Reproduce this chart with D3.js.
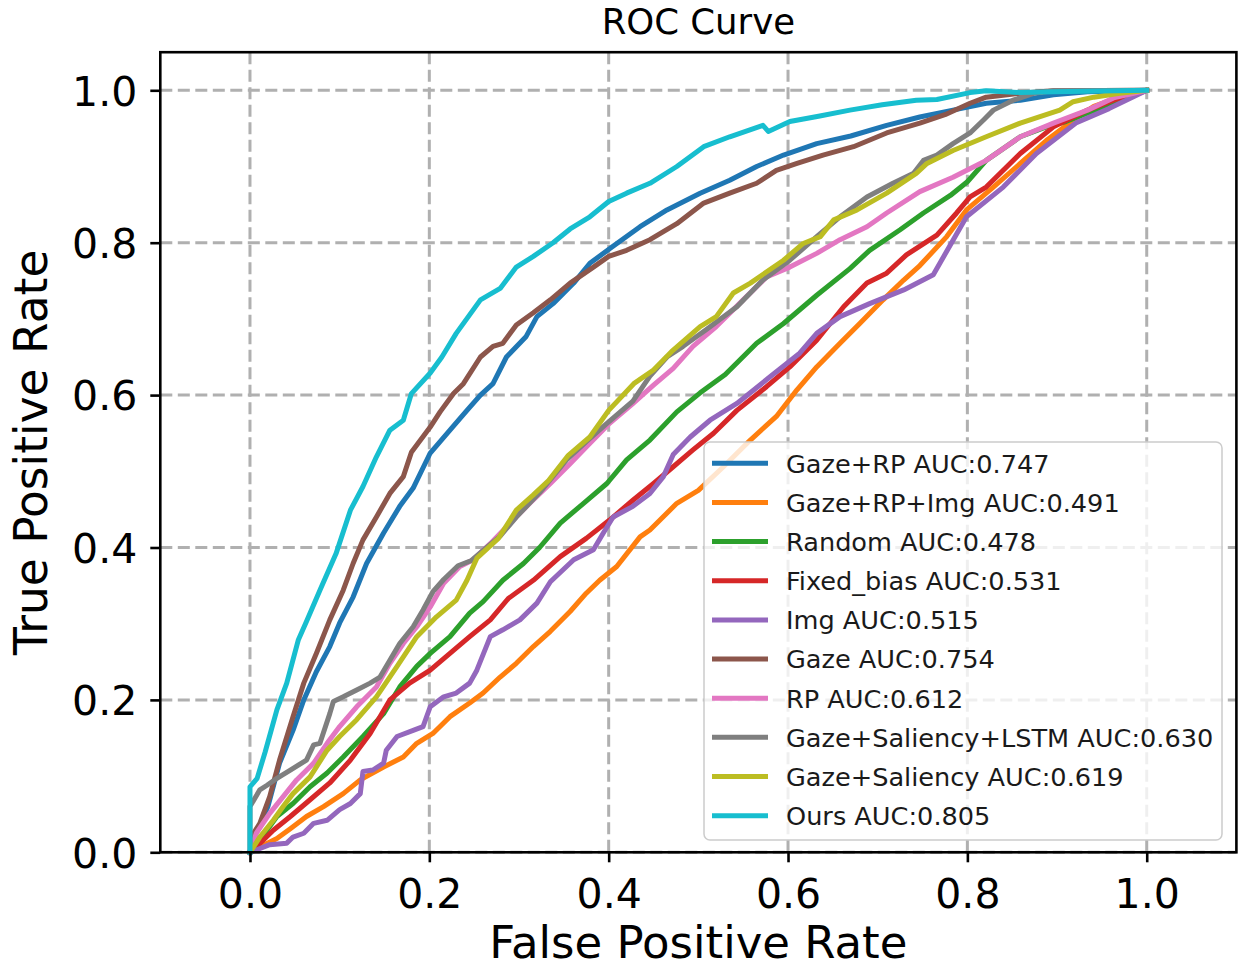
<!DOCTYPE html>
<html lang="en">
<head>
    <meta charset="UTF-8">
    <title>ROC Curve</title>
    <script src="https://d3js.org/d3.v7.min.js"></script>
    <style>
        body { margin: 0; background: #fff; font-family: "DejaVu Sans", sans-serif; }
        svg { display: block; }
    </style>
</head>
<body>
    <svg width="1239" height="970"></svg>

    <script>
        // values: [FPR, TPR]
        const gazeRP = [[0,0],[0.005,0.02],[0.02,0.06],[0.033,0.117],[0.048,0.16],[0.06,0.2],[0.074,0.237],[0.089,0.27],[0.1,0.301],[0.115,0.335],[0.13,0.379],[0.149,0.419],[0.167,0.454],[0.182,0.478],[0.201,0.524],[0.223,0.554],[0.242,0.58],[0.257,0.6],[0.271,0.615],[0.286,0.65],[0.308,0.677],[0.32,0.703],[0.338,0.72],[0.361,0.747],[0.379,0.773],[0.401,0.792],[0.435,0.821],[0.465,0.843],[0.502,0.865],[0.535,0.882],[0.565,0.9],[0.595,0.915],[0.632,0.93],[0.67,0.94],[0.71,0.954],[0.747,0.965],[0.784,0.974],[0.821,0.983],[0.859,0.987],[0.896,0.994],[0.934,0.998],[1,1]];
        const gazeRPImg = [[0,0],[0.011,0.007],[0.03,0.018],[0.045,0.031],[0.063,0.047],[0.082,0.06],[0.104,0.077],[0.123,0.095],[0.149,0.112],[0.171,0.125],[0.186,0.143],[0.204,0.156],[0.223,0.178],[0.245,0.196],[0.26,0.209],[0.279,0.23],[0.297,0.248],[0.316,0.27],[0.335,0.29],[0.357,0.316],[0.375,0.34],[0.39,0.357],[0.409,0.375],[0.435,0.414],[0.446,0.423],[0.476,0.458],[0.5,0.475],[0.528,0.506],[0.558,0.541],[0.587,0.572],[0.61,0.607],[0.632,0.637],[0.658,0.668],[0.68,0.694],[0.706,0.725],[0.729,0.751],[0.747,0.77],[0.777,0.808],[0.799,0.843],[0.829,0.873],[0.859,0.904],[0.888,0.934],[0.914,0.957],[0.941,0.979],[0.97,0.991],[1,1]];
        const random = [[0,0],[0.011,0.016],[0.03,0.047],[0.048,0.064],[0.067,0.086],[0.086,0.104],[0.104,0.125],[0.126,0.152],[0.149,0.182],[0.167,0.217],[0.186,0.244],[0.201,0.261],[0.223,0.283],[0.245,0.314],[0.26,0.329],[0.282,0.357],[0.305,0.379],[0.323,0.4],[0.346,0.432],[0.372,0.458],[0.398,0.484],[0.42,0.515],[0.446,0.541],[0.476,0.578],[0.502,0.603],[0.53,0.627],[0.565,0.668],[0.595,0.694],[0.632,0.731],[0.669,0.766],[0.691,0.79],[0.725,0.817],[0.751,0.839],[0.781,0.862],[0.8,0.88],[0.821,0.908],[0.859,0.939],[0.888,0.952],[0.91,0.959],[1,1]];
        const fixedBias = [[0,0],[0.007,0.007],[0.026,0.029],[0.045,0.047],[0.067,0.069],[0.089,0.091],[0.112,0.121],[0.134,0.156],[0.156,0.2],[0.178,0.222],[0.201,0.239],[0.223,0.261],[0.245,0.283],[0.268,0.305],[0.288,0.333],[0.316,0.357],[0.346,0.388],[0.375,0.412],[0.401,0.436],[0.427,0.462],[0.45,0.484],[0.472,0.506],[0.494,0.528],[0.517,0.55],[0.543,0.58],[0.576,0.611],[0.602,0.637],[0.632,0.672],[0.662,0.716],[0.688,0.747],[0.71,0.76],[0.732,0.784],[0.766,0.81],[0.788,0.839],[0.803,0.86],[0.821,0.873],[0.859,0.917],[0.896,0.952],[0.934,0.974],[0.963,0.987],[1,1]];
        const img = [[0,0],[0.007,0.003],[0.022,0.01],[0.041,0.012],[0.048,0.02],[0.06,0.025],[0.071,0.038],[0.086,0.042],[0.1,0.056],[0.112,0.064],[0.123,0.077],[0.126,0.106],[0.137,0.108],[0.149,0.117],[0.152,0.134],[0.164,0.152],[0.182,0.16],[0.193,0.165],[0.201,0.191],[0.216,0.204],[0.23,0.209],[0.245,0.222],[0.253,0.239],[0.268,0.283],[0.282,0.292],[0.301,0.305],[0.32,0.327],[0.335,0.355],[0.361,0.384],[0.383,0.397],[0.394,0.419],[0.405,0.44],[0.427,0.454],[0.446,0.471],[0.461,0.493],[0.472,0.522],[0.491,0.545],[0.513,0.567],[0.543,0.589],[0.58,0.624],[0.613,0.655],[0.632,0.681],[0.658,0.703],[0.691,0.72],[0.729,0.738],[0.762,0.758],[0.799,0.834],[0.84,0.873],[0.877,0.917],[0.921,0.957],[0.958,0.976],[1,1]];
        const gaze = [[0,0],[0.004,0.025],[0.011,0.038],[0.022,0.073],[0.033,0.121],[0.048,0.178],[0.06,0.222],[0.074,0.261],[0.089,0.305],[0.104,0.344],[0.115,0.379],[0.126,0.41],[0.141,0.44],[0.156,0.471],[0.171,0.493],[0.18,0.525],[0.201,0.558],[0.212,0.578],[0.227,0.602],[0.238,0.615],[0.257,0.65],[0.271,0.664],[0.282,0.668],[0.297,0.692],[0.316,0.708],[0.335,0.725],[0.357,0.747],[0.383,0.768],[0.4,0.782],[0.42,0.79],[0.446,0.804],[0.476,0.825],[0.506,0.852],[0.535,0.865],[0.565,0.878],[0.587,0.895],[0.61,0.904],[0.639,0.915],[0.673,0.926],[0.71,0.944],[0.747,0.957],[0.775,0.968],[0.803,0.983],[0.821,0.991],[0.859,0.996],[0.896,0.9995],[1,1]];
        const rp = [[0,0],[0.007,0.025],[0.022,0.051],[0.037,0.073],[0.052,0.095],[0.071,0.117],[0.086,0.143],[0.1,0.165],[0.119,0.191],[0.141,0.217],[0.156,0.248],[0.171,0.274],[0.186,0.296],[0.201,0.322],[0.216,0.353],[0.234,0.375],[0.249,0.384],[0.268,0.405],[0.29,0.432],[0.312,0.458],[0.335,0.484],[0.357,0.51],[0.375,0.532],[0.401,0.563],[0.427,0.589],[0.45,0.613],[0.472,0.635],[0.494,0.664],[0.52,0.69],[0.55,0.725],[0.576,0.755],[0.602,0.768],[0.632,0.786],[0.658,0.804],[0.688,0.821],[0.71,0.839],[0.747,0.867],[0.784,0.886],[0.821,0.908],[0.859,0.939],[0.896,0.957],[0.934,0.974],[0.963,0.99],[1,1]];
        const gazeSalLSTM = [[0,0],[0,0.06],[0.011,0.082],[0.019,0.088],[0.03,0.097],[0.045,0.108],[0.063,0.121],[0.071,0.141],[0.078,0.143],[0.089,0.182],[0.093,0.198],[0.104,0.204],[0.119,0.213],[0.134,0.222],[0.145,0.23],[0.156,0.252],[0.167,0.274],[0.182,0.296],[0.193,0.318],[0.204,0.342],[0.216,0.358],[0.232,0.376],[0.247,0.383],[0.262,0.398],[0.279,0.415],[0.297,0.44],[0.323,0.472],[0.353,0.515],[0.375,0.539],[0.4,0.565],[0.427,0.592],[0.446,0.625],[0.465,0.65],[0.483,0.664],[0.509,0.686],[0.543,0.716],[0.572,0.751],[0.602,0.777],[0.632,0.808],[0.658,0.834],[0.688,0.86],[0.717,0.878],[0.74,0.891],[0.751,0.908],[0.766,0.915],[0.784,0.93],[0.803,0.944],[0.818,0.961],[0.829,0.974],[0.851,0.987],[0.874,0.996],[0.896,0.9995],[1,1]];
        const gazeSal = [[0,0],[0.011,0.02],[0.026,0.042],[0.037,0.06],[0.048,0.077],[0.067,0.099],[0.086,0.134],[0.1,0.152],[0.119,0.174],[0.141,0.204],[0.164,0.244],[0.186,0.283],[0.208,0.309],[0.23,0.331],[0.242,0.357],[0.253,0.386],[0.277,0.412],[0.297,0.449],[0.316,0.469],[0.333,0.488],[0.355,0.521],[0.379,0.545],[0.4,0.58],[0.428,0.615],[0.45,0.633],[0.47,0.657],[0.502,0.69],[0.52,0.703],[0.539,0.734],[0.558,0.747],[0.595,0.777],[0.617,0.799],[0.636,0.808],[0.651,0.83],[0.677,0.843],[0.71,0.865],[0.743,0.891],[0.755,0.904],[0.784,0.921],[0.821,0.939],[0.859,0.957],[0.903,0.974],[0.918,0.985],[0.941,0.991],[0.97,0.996],[1,1]];
        const ours = [[0,0],[0,0.086],[0.008,0.097],[0.017,0.132],[0.03,0.187],[0.041,0.222],[0.054,0.279],[0.063,0.303],[0.078,0.344],[0.096,0.392],[0.112,0.449],[0.126,0.48],[0.141,0.519],[0.156,0.554],[0.171,0.567],[0.18,0.602],[0.201,0.629],[0.214,0.65],[0.23,0.681],[0.257,0.725],[0.279,0.74],[0.297,0.768],[0.316,0.782],[0.338,0.8],[0.357,0.818],[0.379,0.834],[0.4,0.854],[0.42,0.865],[0.446,0.878],[0.476,0.9],[0.506,0.926],[0.535,0.939],[0.572,0.954],[0.578,0.946],[0.602,0.959],[0.634,0.966],[0.669,0.974],[0.705,0.981],[0.743,0.987],[0.766,0.988],[0.803,0.997],[0.821,0.9995],[0.859,0.997],[0.896,0.998],[1,1]];

        const seriesData = [gazeRP, gazeRPImg, random, fixedBias, img, gaze, rp, gazeSalLSTM, gazeSal, ours];
        const seriesNames = ["Gaze+RP", "Gaze+RP+Img", "Random", "Fixed_bias", "Img", "Gaze", "RP", "Gaze+Saliency+LSTM", "Gaze+Saliency", "Ours"];
        const aucValues = ["0.747", "0.491", "0.478", "0.531", "0.515", "0.754", "0.612", "0.630", "0.619", "0.805"];
        const colors = ["#1f77b4", "#ff7f0e", "#2ca02c", "#d62728", "#9467bd", "#8c564b", "#e377c2", "#7f7f7f", "#bcbd22", "#17becf"];
        const tickValues = [0, 0.2, 0.4, 0.6, 0.8, 1.0];

        const plotLeft = 160.3, plotRight = 1236.4, plotTop = 52.2, plotBottom = 852.3;
        const svg = d3.select("svg");

        const x = d3.scaleLinear().domain([-0.1, 1.1]).range([plotLeft, plotRight]);
        const y = d3.scaleLinear().domain([0, 1.05]).range([plotBottom, plotTop]);

        // grid
        const grid = svg.append("g")
            .attr("stroke", "#b0b0b0")
            .attr("stroke-width", 3)
            .attr("stroke-dasharray", "12,5.5");
        grid.selectAll(".gx").data(tickValues).join("line")
            .attr("class", "gx")
            .attr("x1", d => x(d)).attr("x2", d => x(d))
            .attr("y1", plotTop).attr("y2", plotBottom);
        grid.selectAll(".gy").data(tickValues).join("line")
            .attr("class", "gy")
            .attr("x1", plotLeft).attr("x2", plotRight)
            .attr("y1", d => y(d)).attr("y2", d => y(d));

        // curves
        const line = d3.line().x(d => x(d[0])).y(d => y(d[1]));
        svg.append("g")
            .selectAll("path")
            .data(seriesData)
            .join("path")
            .attr("d", line)
            .attr("fill", "none")
            .attr("stroke", (d, i) => colors[i])
            .attr("stroke-width", 5)
            .attr("stroke-linejoin", "round")
            .attr("stroke-linecap", "square");

        // axes
        const xAxis = svg.append("g")
            .attr("transform", `translate(0,${plotBottom})`)
            .call(d3.axisBottom(x).tickValues(tickValues).tickFormat(d3.format(".1f")).tickSize(10));
        const yAxis = svg.append("g")
            .attr("transform", `translate(${plotLeft},0)`)
            .call(d3.axisLeft(y).tickValues(tickValues).tickFormat(d3.format(".1f")).tickSize(10));
        [xAxis, yAxis].forEach(a => {
            a.select(".domain").remove();
            a.selectAll(".tick line").attr("stroke", "#000").attr("stroke-width", 2.6);
            a.selectAll("text")
                .attr("fill", "#000")
                .style("font-family", "'DejaVu Sans', sans-serif")
                .style("font-size", "41px");
        });
        xAxis.selectAll("text").attr("y", 56).attr("dy", null);
        yAxis.selectAll("text").attr("x", -23).attr("dy", "0.36em");

        // spines
        svg.append("rect")
            .attr("x", plotLeft).attr("y", plotTop)
            .attr("width", plotRight - plotLeft).attr("height", plotBottom - plotTop)
            .attr("fill", "none")
            .attr("stroke", "#000")
            .attr("stroke-width", 2.6);

        // labels
        svg.append("text")
            .attr("x", (plotLeft + plotRight) / 2).attr("y", 34)
            .attr("text-anchor", "middle")
            .style("font-size", "35.5px")
            .text("ROC Curve");
        svg.append("text")
            .attr("x", (plotLeft + plotRight) / 2).attr("y", 958)
            .attr("text-anchor", "middle")
            .style("font-size", "45px")
            .text("False Positive Rate");
        svg.append("text")
            .attr("transform", `translate(47,${(plotTop + plotBottom) / 2}) rotate(-90)`)
            .attr("text-anchor", "middle")
            .style("font-size", "45.5px")
            .text("True Positive Rate");

        // legend
        const lgX = 704, lgY = 442, lgW = 518, lgH = 398, rowH = 39.15;
        const legend = svg.append("g");
        legend.append("rect")
            .attr("x", lgX).attr("y", lgY)
            .attr("width", lgW).attr("height", lgH)
            .attr("rx", 6)
            .attr("fill", "#fff").attr("fill-opacity", 0.8)
            .attr("stroke", "#cccccc").attr("stroke-width", 1.5);
        const item = legend.selectAll(".item")
            .data(seriesNames)
            .join("g")
            .attr("class", "item")
            .attr("transform", (d, i) => `translate(0,${lgY + 21.3 + i * rowH})`);
        item.append("line")
            .attr("x1", 712).attr("x2", 768)
            .attr("stroke", (d, i) => colors[i])
            .attr("stroke-width", 5);
        item.append("text")
            .attr("x", 786).attr("y", 9.4)
            .style("font-size", "25.6px")
            .attr("fill", "#1a1a1a")
            .text((d, i) => `${d} AUC:${aucValues[i]}`);
    </script>
</body>
</html>
